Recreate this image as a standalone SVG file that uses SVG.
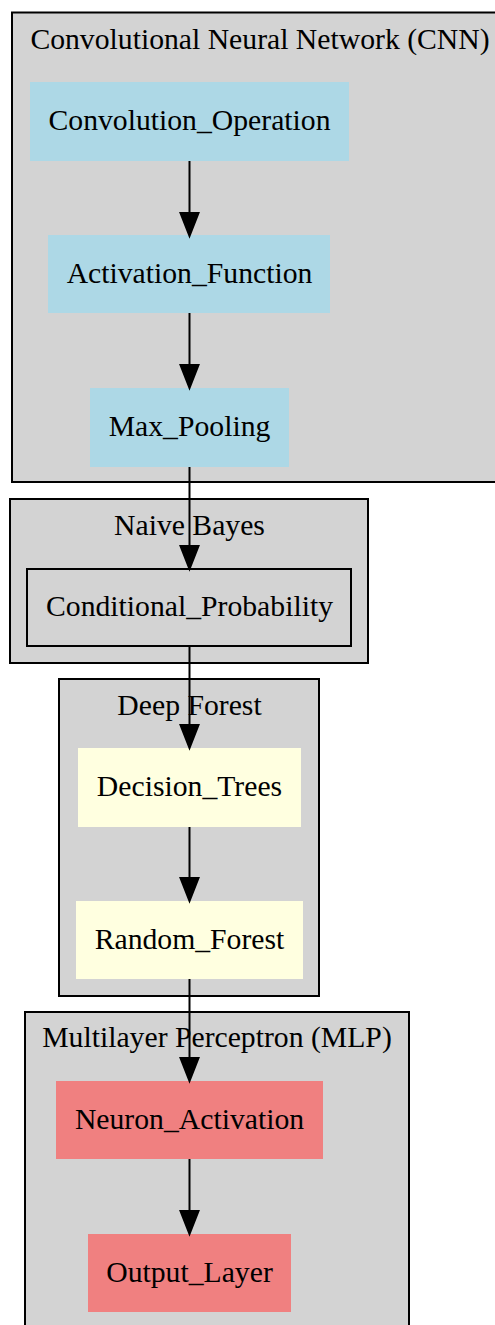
<svg xmlns="http://www.w3.org/2000/svg" width="495" height="1325" viewBox="0 0 495 1325">
  <style>
    .cluster { fill: #d3d3d3; stroke: #000; stroke-width: 2; }
    .title, .label { font-family: "Liberation Serif", "Times New Roman", serif; font-size: 29.7px; fill: #000; text-anchor: middle; }
    .edge { stroke: #000; stroke-width: 2; fill: none; }
    .head { fill: #000; stroke: #000; stroke-width: 2; stroke-linejoin: miter; }
    .cnn { fill: #add8e6; }
    .forest { fill: #ffffe0; }
    .mlp { fill: #f08080; }
    .nb { fill: #d3d3d3; stroke: #000; stroke-width: 2; }
  </style>

  <!-- clusters -->
  <g id="cluster_cnn">
    <rect class="cluster" x="12" y="12.5" width="500" height="469.5"/>
    <text class="title" x="260" y="49">Convolutional Neural Network (CNN)</text>
  </g>
  <g id="cluster_nb">
    <rect class="cluster" x="10" y="499" width="358" height="164"/>
    <text class="title" x="189.5" y="535">Naive Bayes</text>
  </g>
  <g id="cluster_df">
    <rect class="cluster" x="59" y="679" width="260" height="317"/>
    <text class="title" x="189.5" y="715">Deep Forest</text>
  </g>
  <g id="cluster_mlp">
    <rect class="cluster" x="25" y="1012" width="384" height="330"/>
    <text class="title" x="217" y="1047">Multilayer Perceptron (MLP)</text>
  </g>

  <!-- nodes -->
  <g id="Convolution_Operation">
    <rect class="cnn" x="30" y="82" width="319" height="79"/>
    <text class="label" x="189.5" y="130">Convolution_Operation</text>
  </g>
  <g id="Activation_Function">
    <rect class="cnn" x="48" y="235" width="282" height="78"/>
    <text class="label" x="189.5" y="283">Activation_Function</text>
  </g>
  <g id="Max_Pooling">
    <rect class="cnn" x="90" y="388" width="199" height="79"/>
    <text class="label" x="189.5" y="436">Max_Pooling</text>
  </g>
  <g id="Conditional_Probability">
    <rect class="nb" x="27" y="569" width="324" height="77"/>
    <text class="label" x="189.5" y="616">Conditional_Probability</text>
  </g>
  <g id="Decision_Trees">
    <rect class="forest" x="78" y="748" width="223" height="79"/>
    <text class="label" x="189.5" y="796">Decision_Trees</text>
  </g>
  <g id="Random_Forest">
    <rect class="forest" x="76" y="901" width="227" height="78"/>
    <text class="label" x="189.5" y="949">Random_Forest</text>
  </g>
  <g id="Neuron_Activation">
    <rect class="mlp" x="56" y="1081" width="267" height="78"/>
    <text class="label" x="189.5" y="1129">Neuron_Activation</text>
  </g>
  <g id="Output_Layer">
    <rect class="mlp" x="88" y="1234" width="203" height="78"/>
    <text class="label" x="189.5" y="1282">Output_Layer</text>
  </g>

  <!-- connectors -->
  <g id="edges">
    <line class="edge" x1="189.5" y1="161" x2="189.5" y2="213"/>
    <polygon class="head" points="180.5,213 198.5,213 189.5,236"/>
    <line class="edge" x1="189.5" y1="313" x2="189.5" y2="365"/>
    <polygon class="head" points="180.5,365 198.5,365 189.5,388"/>
    <line class="edge" x1="189.5" y1="467" x2="189.5" y2="546"/>
    <polygon class="head" points="180.5,546 198.5,546 189.5,569"/>
    <line class="edge" x1="189.5" y1="646" x2="189.5" y2="725"/>
    <polygon class="head" points="180.5,725 198.5,725 189.5,748"/>
    <line class="edge" x1="189.5" y1="827" x2="189.5" y2="878"/>
    <polygon class="head" points="180.5,878 198.5,878 189.5,901"/>
    <line class="edge" x1="189.5" y1="979" x2="189.5" y2="1058"/>
    <polygon class="head" points="180.5,1058 198.5,1058 189.5,1081"/>
    <line class="edge" x1="189.5" y1="1159" x2="189.5" y2="1211"/>
    <polygon class="head" points="180.5,1211 198.5,1211 189.5,1234"/>
  </g>
</svg>
